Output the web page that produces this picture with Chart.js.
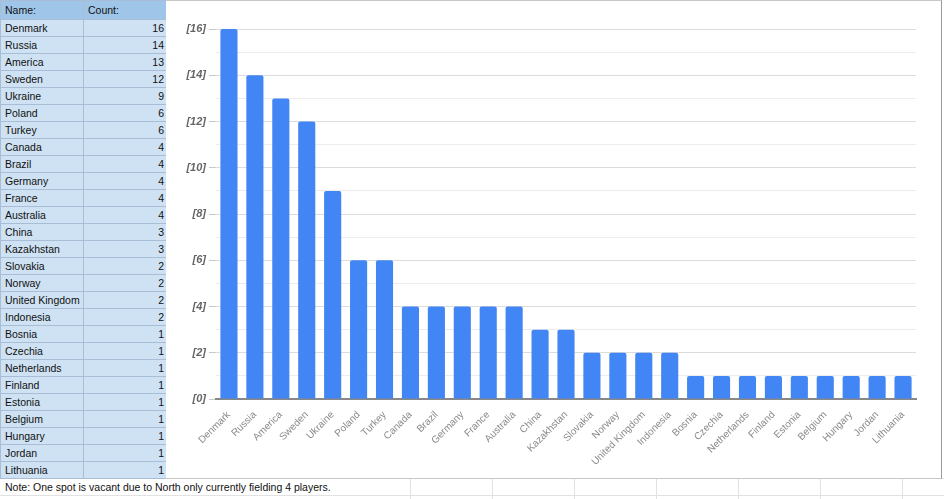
<!DOCTYPE html>
<html>
<head>
<meta charset="utf-8">
<script src="https://cdn.jsdelivr.net/npm/chart.js@4/dist/chart.umd.min.js"></script>
<style>
  body { margin: 0; background: #fff; font-family: "Liberation Sans", Arial, sans-serif; font-size: 10.5px; }
  #sheet { position: absolute; left: 0; top: 0; width: 166px; border-collapse: collapse; table-layout: fixed; }
  #sheet td { height: 16px; padding: 0 3px 0 4px; border: 1px solid #a9bed6; background: #cfe2f3; color: #111; white-space: nowrap; overflow: hidden; line-height: 16px; }
  #sheet tr.head td { background: #9fc5e8; height: 18px; }
  #sheet td.num { text-align: right; padding-right: 2px; }
  #note { position: absolute; left: 5px; top: 479px; line-height: 16px; color: #111; }
  #grid { position: absolute; left: 0; top: 478px; width: 944px; height: 21px;
          border-top: 1px solid #e2e2e2;
          background: linear-gradient(#e2e2e2, #e2e2e2) 0 16px / 100% 1px no-repeat; }
  #gridv { position: absolute; left: 329px; top: 478px; width: 615px; height: 21px;
           background: repeating-linear-gradient(to right, transparent 0, transparent 81px, #e2e2e2 81px, #e2e2e2 82px); }
  #box { position: absolute; left: 166px; top: 0; width: 775px; height: 477px;
         border-top: 1px solid #c8c8c8; border-right: 1px solid #9a9a9a; border-bottom: 1px solid #c8c8c8; background: #fff; }
</style>
</head>
<body>
<div id="grid"></div>
<div id="gridv"></div>
<table id="sheet">
  <colgroup><col style="width:83px"><col style="width:83px"></colgroup>
  <tbody id="rows"><tr class="head"><td>Name:</td><td>Count:</td></tr></tbody>
</table>
<div id="note">Note: One spot is vacant due to North only currently fielding 4 players.</div>
<div id="box"><canvas id="myChart" width="775" height="477"></canvas></div>
<script>
const countries = ['Denmark', 'Russia', 'America', 'Sweden', 'Ukraine', 'Poland', 'Turkey', 'Canada', 'Brazil',
  'Germany', 'France', 'Australia', 'China', 'Kazakhstan', 'Slovakia', 'Norway', 'United Kingdom', 'Indonesia',
  'Bosnia', 'Czechia', 'Netherlands', 'Finland', 'Estonia', 'Belgium', 'Hungary', 'Jordan', 'Lithuania'];
const counts = [16, 14, 13, 12, 9, 6, 6, 4, 4, 4, 4, 4, 3, 3, 2, 2, 2, 2, 1, 1, 1, 1, 1, 1, 1, 1, 1];
const yTicks = [0, 2, 4, 6, 8, 10, 12, 14, 16];

// table on the left
const tbody = document.getElementById('rows');
countries.forEach((c, i) => {
  const tr = document.createElement('tr');
  tr.innerHTML = '<td>' + c + '</td><td class="num">' + counts[i] + '</td>';
  tbody.appendChild(tr);
});

const chart1 = document.getElementById('myChart').getContext('2d');
new Chart(chart1, {
  type: 'bar',
  data: {
    labels: countries,
    datasets: [{
      label: 'Count',
      data: counts,
      backgroundColor: '#4285f4',
      borderRadius: { topLeft: 2, topRight: 2 },
      borderSkipped: 'bottom',
      categoryPercentage: 1,
      barPercentage: 0.66
    }]
  },
  options: {
    responsive: false,
    animation: false,
    layout: { padding: { top: 28, right: 25, left: 0, bottom: 0 } },
    plugins: { legend: { display: false }, tooltip: { enabled: false } },
    scales: {
      x: {
        grid: { display: false },
        border: { color: '#888', width: 2 },
        ticks: {
          minRotation: 45, maxRotation: 45, autoSkip: false, padding: 2,
          color: '#8a8a8a', font: { family: 'Liberation Sans', size: 10 }
        },
        afterFit: s => { s.height = 79; }
      },
      y: {
        min: 0, max: 16,
        border: { display: false },
        grid: {
          color: ctx => ctx.tick && ctx.tick.value % 2 === 0 ? '#dcdcdc' : '#ececec',
          tickColor: ctx => ctx.tick && yTicks.includes(ctx.tick.value) ? '#c8c8c8' : 'rgba(0,0,0,0)',
          tickLength: 7
        },
        ticks: {
          stepSize: 1, padding: 3,
          color: '#666', font: { family: 'Liberation Sans', size: 11, style: 'italic', weight: 'bold' },
          callback: v => yTicks.includes(v) ? '[' + v + ']' : ''
        },
        afterFit: s => { s.width = 50; }
      }
    }
  }
});
</script>
</body>
</html>
